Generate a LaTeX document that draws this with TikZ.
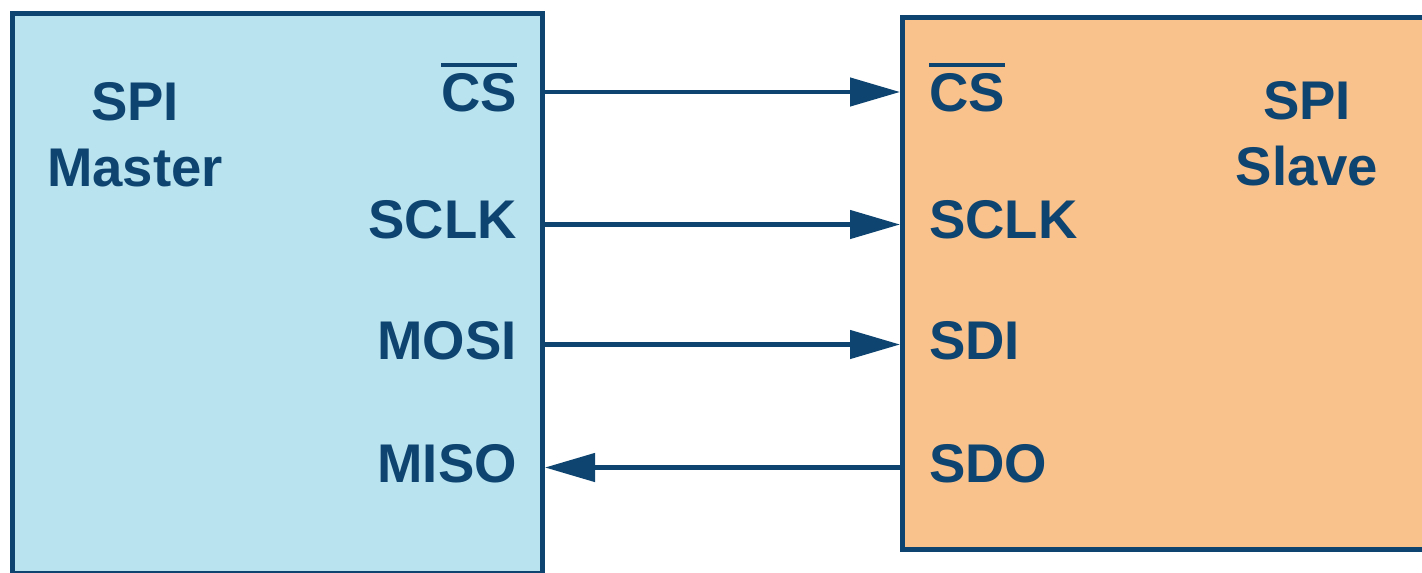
\documentclass[tikz,border=0pt]{standalone}
\usepackage{fontspec}
\setmainfont{Liberation Sans}
\usetikzlibrary{arrows.meta}
\definecolor{adiblue}{HTML}{0E4470}
\definecolor{mfill}{HTML}{B9E3EF}
\definecolor{sfill}{HTML}{F9C18B}
\newcommand\obar[1]{\setbox0\hbox{#1}\rlap{\rule[\dimexpr\ht0+6pt\relax]{\wd0}{4pt}}\box0}
\begin{document}
\begin{tikzpicture}[x=1pt,y=-1pt,
  box/.style={draw=adiblue,line width=5pt,inner sep=0pt,anchor=north west},
  lbl/.style={text=adiblue,font=\fontsize{54.5}{66}\selectfont\bfseries,inner sep=0pt},
  sig/.style={draw=adiblue,line width=4.5pt,-{Triangle[length=50pt,width=28pt]}}]
\clip (0,0) rectangle (1422,573);
\fill[white] (0,0) rectangle (1422,573);
\node[box,fill=mfill,minimum width=530.5pt,minimum height=560.5pt] (master) at (9.5,10.5) {};
\node[box,fill=sfill,minimum width=560pt,minimum height=532pt] (slave) at (900,14.5) {};
\node[lbl,align=center,anchor=base] (mtitle) at (135,186) {SPI\\Master};
\node[lbl,align=center,anchor=base] (stitle) at (1307,185) {SPI\\Slave};
\node[lbl,anchor=base east] (mcs) at (517,111) {\obar{CS}};
\node[lbl,anchor=base east] (msclk) at (517,238.5) {SCLK};
\node[lbl,anchor=base east] (mmosi) at (517,359) {MOSI};
\node[lbl,anchor=base east] (mmiso) at (517,482.5) {MISO};
\node[lbl,anchor=base west] (scs) at (929,111) {\obar{CS}};
\node[lbl,anchor=base west] (ssclk) at (929,238.5) {SCLK};
\node[lbl,anchor=base west] (ssdi) at (929,359) {SDI};
\node[lbl,anchor=base west] (ssdo) at (929,482.5) {SDO};
\coordinate (y1) at (0,92);
\coordinate (y2) at (0,224.5);
\coordinate (y3) at (0,344.5);
\coordinate (y4) at (0,467.5);
\draw[sig] (master.east |- y1) -- (slave.west |- y1);
\draw[sig] (master.east |- y2) -- (slave.west |- y2);
\draw[sig] (master.east |- y3) -- (slave.west |- y3);
\draw[sig] (slave.west |- y4) -- (master.east |- y4);
\end{tikzpicture}
\end{document}
